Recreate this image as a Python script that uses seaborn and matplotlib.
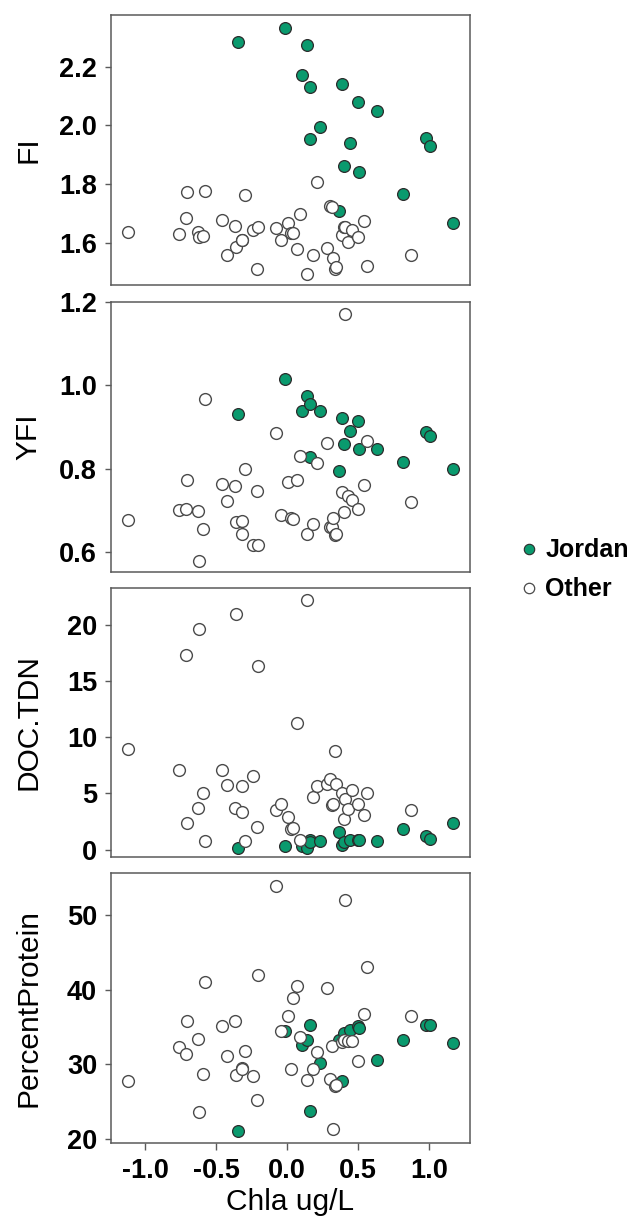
import matplotlib
matplotlib.use("Agg")
import matplotlib.pyplot as plt
import pandas as pd
import seaborn as sns
from matplotlib.lines import Line2D

# ---- Jordan sites ----
jordan_chla = [-0.347, -0.014, 0.108, 0.138, 0.160, 0.164, 0.235, 0.366, 0.385,
               0.401, 0.441, 0.502, 0.507, 0.634, 0.819, 0.979, 1.005, 1.167]
jordan_fi = [2.283, 2.331, 2.172, 2.274, 1.955, 2.132, 1.995, 1.708, 2.140,
             1.862, 1.941, 2.081, 1.842, 2.050, 1.767, 1.957, 1.931, 1.668]
jordan_yfi = [0.930, 1.016, 0.938, 0.974, 0.828, 0.954, 0.939, 0.794, 0.922,
              0.859, 0.890, 0.915, 0.848, 0.848, 0.816, 0.888, 0.878, 0.798]
jordan_doc_tdn = [0.18, 0.30, 0.30, 0.18, 0.83, 0.68, 0.74, 1.58, 0.44,
                  0.68, 0.83, 0.89, 0.83, 0.74, 1.87, 1.22, 0.98, 2.38]
jordan_protein = [21.02, 34.40, 32.61, 33.28, 23.70, 35.29, 30.16, 33.28, 27.71,
                  34.17, 34.62, 35.06, 34.84, 30.61, 33.28, 35.29, 35.20, 32.84]

# ---- other sites ----
other_chla = [-1.122, -0.761, -0.714, -0.707, -0.624, -0.622, -0.592, -0.580, -0.455,
              -0.425, -0.369, -0.357, -0.317, -0.315, -0.296, -0.239, -0.214, -0.207,
              -0.075, -0.045, 0.009, 0.031, 0.040, 0.070, 0.092, 0.138, 0.185, 0.209,
              0.284, 0.305, 0.317, 0.326, 0.338, 0.343, 0.385, 0.404, 0.408, 0.427,
              0.455, 0.502, 0.545, 0.561, 0.873]
other_fi = [1.638, 1.630, 1.683, 1.772, 1.638, 1.620, 1.623, 1.777, 1.677,
            1.558, 1.657, 1.586, 1.609, 1.609, 1.763, 1.643, 1.509, 1.652,
            1.649, 1.611, 1.668, 1.634, 1.632, 1.578, 1.697, 1.493, 1.558, 1.806,
            1.581, 1.725, 1.723, 1.547, 1.512, 1.518, 1.626, 1.655, 1.652, 1.603,
            1.643, 1.620, 1.675, 1.522, 1.558]
other_yfi = [0.676, 0.700, 0.704, 0.772, 0.698, 0.578, 0.656, 0.966, 0.764,
             0.722, 0.758, 0.672, 0.674, 0.644, 0.798, 0.616, 0.746, 0.616,
             0.886, 0.690, 0.768, 0.682, 0.680, 0.772, 0.830, 0.644, 0.668, 0.814,
             0.862, 0.660, 0.660, 0.682, 0.642, 0.644, 0.744, 0.696, 1.172, 0.734,
             0.724, 0.702, 0.760, 0.866, 0.720]
other_doc_tdn = [8.95, 7.13, 17.33, 2.38, 3.71, 19.61, 5.08, 0.74, 7.13,
                 5.74, 3.74, 20.95, 3.36, 5.65, 0.77, 6.54, 2.02, 16.37,
                 3.51, 4.10, 2.91, 1.87, 1.96, 11.23, 0.83, 22.23, 4.70, 5.65,
                 5.82, 6.33, 3.95, 4.10, 8.80, 5.88, 5.00, 2.76, 4.55, 3.66,
                 5.35, 4.10, 3.12, 5.00, 3.51]
other_protein = [27.71, 32.30, 31.41, 35.73, 33.42, 23.56, 28.73, 40.95, 35.06,
                 31.05, 35.82, 28.60, 29.49, 29.36, 31.81, 28.38, 25.17, 41.89,
                 53.88, 34.40, 36.40, 29.36, 38.85, 40.50, 33.64, 27.84, 29.36, 31.59,
                 40.19, 28.02, 32.48, 21.33, 27.13, 27.26, 32.92, 33.28, 51.92, 33.06,
                 33.06, 30.38, 36.76, 42.96, 36.40]

variables = ["FI", "YFI", "DOC.TDN", "PercentProtein"]
y_limits = [(1.456, 2.376), (0.552, 1.200), (-0.65, 23.27), (19.46, 55.6)]
y_ticks = [[1.6, 1.8, 2.0, 2.2], [0.6, 0.8, 1.0, 1.2], [0, 5, 10, 15, 20], [20, 30, 40, 50]]
y_ticklabels = [["1.6", "1.8", "2.0", "2.2"], ["0.6", "0.8", "1.0", "1.2"],
                ["0", "5", "10", "15", "20"], ["20", "30", "40", "50"]]
x_ticks = [-1.0, -0.5, 0.0, 0.5, 1.0]
x_ticklabels = ["-1.0", "-0.5", "0.0", "0.5", "1.0"]

jordan = pd.DataFrame({"Chla": jordan_chla, "FI": jordan_fi, "YFI": jordan_yfi,
                       "DOC.TDN": jordan_doc_tdn, "PercentProtein": jordan_protein})
jordan["Site"] = "Jordan"
other = pd.DataFrame({"Chla": other_chla, "FI": other_fi, "YFI": other_yfi,
                      "DOC.TDN": other_doc_tdn, "PercentProtein": other_protein})
other["Site"] = "Other"
df = pd.concat([jordan, other], ignore_index=True)

GREEN = "#0a9a6e"
SPINE = "#5a5a5a"
TICK_FS = 19.5
LABEL_FS = 21.5

sns.set_theme(style="white")
plt.rcParams["font.family"] = ["Liberation Sans", "DejaVu Sans"]
plt.rcParams["axes.unicode_minus"] = False

W, H = 632, 1222
fig = plt.figure(figsize=(W / 100, H / 100), dpi=100)

left_px, right_px = 111, 470
panels_px = [(15, 285), (302, 572), (588, 857), (873, 1143)]

for i, (var, (top, bot)) in enumerate(zip(variables, panels_px)):
    ax = fig.add_axes([left_px / W, 1 - bot / H, (right_px - left_px) / W, (bot - top) / H])
    sns.scatterplot(data=df[df.Site == "Jordan"], x="Chla", y=var, ax=ax,
                    color=GREEN, edgecolor="#2b2b2b", linewidth=0.9, s=72, zorder=3)
    sns.scatterplot(data=df[df.Site == "Other"], x="Chla", y=var, ax=ax,
                    color="white", edgecolor="#4a4a4a", linewidth=1.0, s=72, zorder=3)
    ax.set_xlim(-1.239, 1.289)
    ax.set_ylim(*y_limits[i])
    ax.set_yticks(y_ticks[i])
    ax.set_yticklabels(y_ticklabels[i], fontsize=TICK_FS, fontweight="bold", color="black")
    ax.set_ylabel(var, fontsize=LABEL_FS, color="black")
    ax.yaxis.set_label_coords(-0.19, 0.5)
    for sp in ax.spines.values():
        sp.set_visible(True)
        sp.set_color(SPINE)
        sp.set_linewidth(1.1)
    ax.tick_params(axis="y", which="both", left=True, length=4, width=1.0,
                   color=SPINE, pad=6)
    if i < 3:
        ax.set_xticks([])
        ax.set_xlabel("")
    else:
        ax.set_xticks(x_ticks)
        ax.set_xticklabels(x_ticklabels, fontsize=TICK_FS, fontweight="bold", color="black")
        ax.tick_params(axis="x", which="both", bottom=True, length=5, width=1.0,
                       color=SPINE, pad=6)
        ax.set_xlabel("Chla ug/L", fontsize=LABEL_FS, color="black", labelpad=3)
    ax.grid(False)
    if ax.get_legend() is not None:
        ax.get_legend().remove()

handles = [
    Line2D([], [], marker="o", linestyle="", markerfacecolor=GREEN,
           markeredgecolor="#2b2b2b", markeredgewidth=0.8, markersize=7.5),
    Line2D([], [], marker="o", linestyle="", markerfacecolor="white",
           markeredgecolor="#4a4a4a", markeredgewidth=0.9, markersize=7.5),
]
leg = fig.legend(handles, ["Jordan", "Other"], loc="center left",
                 bbox_to_anchor=(519 / W, 1 - 570 / H), frameon=False,
                 prop={"size": 18, "weight": "bold"}, handletextpad=0.25,
                 labelspacing=0.6, handlelength=0.8, borderpad=0, borderaxespad=0)
for t in leg.get_texts():
    t.set_color("black")

fig.savefig("out.png", dpi=100)
